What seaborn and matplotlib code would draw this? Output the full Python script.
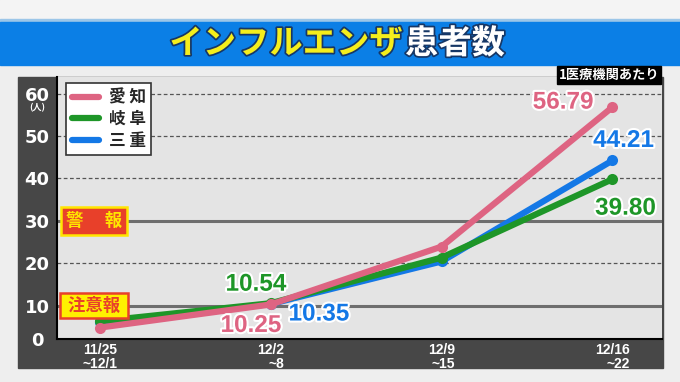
import matplotlib
matplotlib.use('Agg')
import matplotlib.pyplot as plt
import matplotlib.patheffects as pe
import matplotlib.transforms as mtrans
from matplotlib.lines import Line2D
from matplotlib.patches import Rectangle
import seaborn as sns
import pandas as pd

# 1医療機関あたりの患者数 (週別)
weeks = ['11/25\n~12/1', '12/2\n~8', '12/9\n~15', '12/16\n~22']
prefs = ['愛知', '岐阜', '三重']
aichi = [4.8, 10.25, 23.9, 56.79]
gifu = [6.3, 10.54, 21.3, 39.80]
mie = [6.0, 10.35, 20.4, 44.21]
colors = {'愛知': '#de6482', '岐阜': '#1e9628', '三重': '#1478e6'}
y_ticks = [10, 20, 30, 40, 50, 60]
alerts = {'注意報': 10, '警報': 30}

df = pd.DataFrame({
    'week': list(range(len(weeks))) * 3,
    'pref': [p for p in prefs for _ in weeks],
    'value': aichi + gifu + mie,
})

sns.set_style('white')
plt.rcParams['font.family'] = ['Noto Sans CJK JP', 'DejaVu Sans']

W, H = 680, 382
fig = plt.figure(figsize=(6.8, 3.82), dpi=100, facecolor='#eeeeee')


def px_rect(x0, y0, x1, y1, color, z=-5):
    fig.patches.append(Rectangle((x0 / W, 1 - y1 / H), (x1 - x0) / W, (y1 - y0) / H,
                                 transform=fig.transFigure, color=color, zorder=z))


# banner
px_rect(0, 0, W, 19, '#f4f4f4')
px_rect(0, 19, W, 22, '#9cc6e8')
px_rect(0, 22, W, 65, '#0b7fe6')
# dark frame around the chart
px_rect(18, 77, 663, 368, '#474747')

stroke = [pe.withStroke(linewidth=2.5, foreground='#163766')]
fig.text(403 / W, 1 - 44 / H, 'インフルエンザ', ha='right', va='center', color='#f5ee1c',
         fontsize=24, fontweight='bold', path_effects=stroke)
fig.text(405 / W, 1 - 44 / H, '患者数', ha='left', va='center', color='white',
         fontsize=24, fontweight='bold', path_effects=stroke)
fig.text(609 / W, 1 - 75 / H, '1医療機関あたり', ha='center', va='center', color='white',
         fontsize=9.5, fontweight='bold', zorder=10,
         bbox=dict(boxstyle='square,pad=0.15', fc='black', ec='black'))

ax = fig.add_axes([57 / W, 43 / H, 605 / W, 262 / H])
ax.set_facecolor('#e4e4e4')

for y in y_ticks:
    if y in alerts.values():
        ax.axhline(y, color='#6e6e6e', lw=2.2, zorder=1)
    else:
        ax.axhline(y, color='#555555', lw=0.9, ls=(0, (3, 2)), zorder=1)

sns.lineplot(data=df, x='week', y='value', hue='pref', hue_order=['三重', '岐阜', '愛知'],
             palette=colors, marker='o', markersize=8, markeredgewidth=0, linewidth=4.5,
             legend=False, ax=ax, zorder=5)

ylo = 2.1
ax.set_ylim(ylo, 63.9)
ax.set_xlim(-0.252, 3.29)
ax.set_yticks([ylo] + y_ticks, ['0'] + [str(v) for v in y_ticks])
ax.set_xticks(range(len(weeks)), weeks)
ax.set_xlabel('')
ax.set_ylabel('')
ax.tick_params(axis='y', length=0, pad=14.4, colors='white')
ax.tick_params(axis='x', length=0, pad=3, colors='white')
for lab in ax.get_yticklabels():
    lab.set_ha('center')
    lab.set_family('DejaVu Sans')
    lab.set_fontweight('bold')
    lab.set_fontsize(13)
for lab in ax.get_xticklabels():
    lab.set_family(['Liberation Sans', 'DejaVu Sans'])
    lab.set_fontweight('bold')
    lab.set_fontsize(10)
    lab.set_multialignment('right')
    lab.set_linespacing(0.95)
for s in ['top', 'right']:
    ax.spines[s].set_visible(False)
for s in ['left', 'bottom']:
    ax.spines[s].set_color('black')
    ax.spines[s].set_linewidth(1.5)

fig.text(37 / W, 1 - 108 / H, '(人)', ha='center', va='center', color='white',
         fontsize=6.5, fontweight='bold')

# alert level tags
blend = mtrans.blended_transform_factory(ax.transAxes, ax.transData)
tag_x = (94 - 57) / 605
ax.text(tag_x, alerts['警報'], '警\u3000 報', transform=blend, ha='center', va='center',
        color='#ffe600', fontsize=12.5, fontweight='bold', zorder=6,
        bbox=dict(boxstyle='square,pad=0.3', fc='#e8402a', ec='#ffe600', lw=1.8))
ax.text(tag_x, alerts['注意報'], ' 注意報 ', transform=blend, ha='center', va='center',
        color='#e8402a', fontsize=12.5, fontweight='bold', zorder=6,
        bbox=dict(boxstyle='square,pad=0.2', fc='#fff000', ec='#e8402a', lw=1.8))

# value labels
series = {'愛知': aichi, '岐阜': gifu, '三重': mie}
notes = [
    ('愛知', 3, 'right', (-19, 5)),
    ('三重', 3, 'center', (11, 20)),
    ('岐阜', 3, 'center', (13, -29)),
    ('岐阜', 1, 'center', (-15, 19)),
    ('愛知', 1, 'center', (-20, -21)),
    ('三重', 1, 'center', (48, -10)),
]
for pref, i, ha, (dx, dy) in notes:
    ax.annotate(f'{series[pref][i]:.2f}', (i, series[pref][i]), xytext=(dx * 0.72, dy * 0.72),
                textcoords='offset points', ha=ha, va='center', color=colors[pref],
                fontsize=17.5, fontweight='bold', family=['Liberation Sans', 'DejaVu Sans'],
                path_effects=[pe.withStroke(linewidth=3, foreground='white')], zorder=7)

handles = [Line2D([], [], color=colors[p], lw=4.5) for p in prefs]
leg = ax.legend(handles, [p[0] + ' ' + p[1] for p in prefs], loc='upper left',
                bbox_to_anchor=(0.015, 0.977), borderaxespad=0, frameon=True, fancybox=False,
                edgecolor='#333333', facecolor='white', framealpha=1,
                prop={'weight': 'bold', 'size': 12}, handlelength=1.6, handletextpad=0.6,
                labelspacing=0.2, borderpad=0.35)
leg.get_frame().set_linewidth(1.2)
leg.set_zorder(8)

fig.savefig('out.png', dpi=100, facecolor=fig.get_facecolor())
